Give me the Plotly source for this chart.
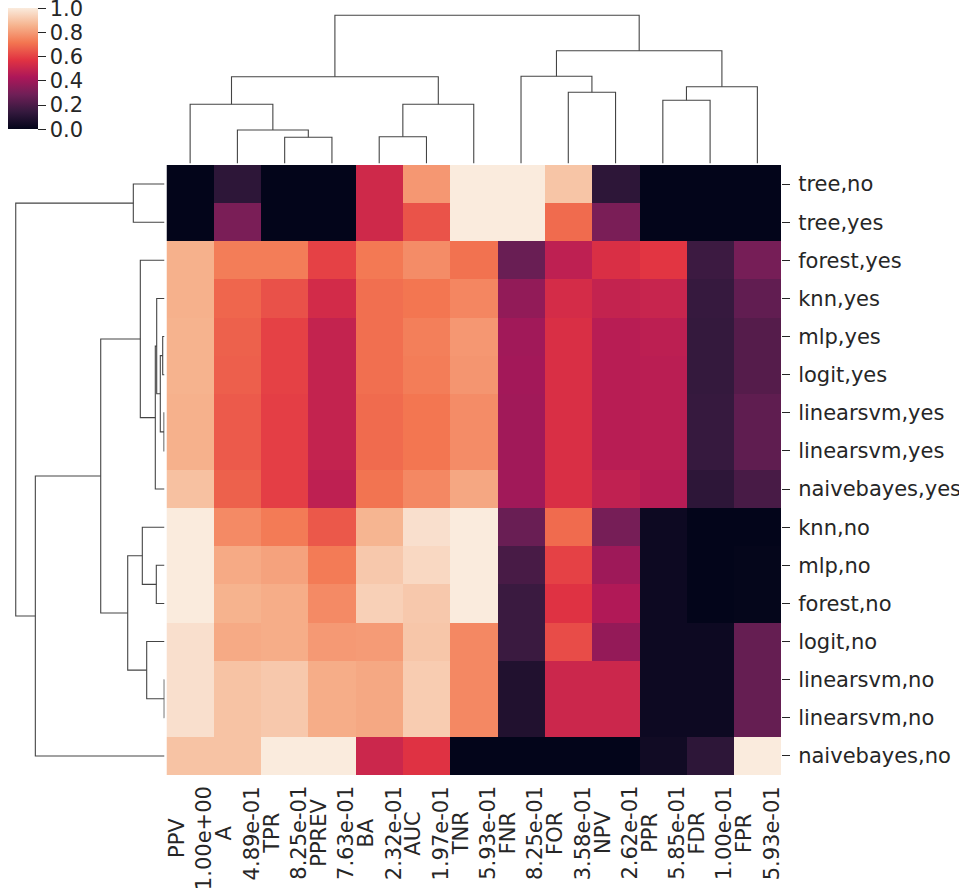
import plotly.graph_objects as go

W, H = 959, 894

# columns and rows in the order the clustering left them
col_names = ['PPV', 'A', 'TPR', 'PPREV', 'BA', 'AUC', 'TNR', 'FNR', 'FOR', 'NPV', 'PPR', 'FDR', 'FPR']
col_vals = ['1.00e+00', '4.89e-01', '8.25e-01', '7.63e-01', '2.32e-01', '1.97e-01', '5.93e-01',
            '8.25e-01', '3.58e-01', '2.62e-01', '5.85e-01', '1.00e-01', '5.93e-01']
row_names = ['tree,no', 'tree,yes', 'forest,yes', 'knn,yes', 'mlp,yes', 'logit,yes',
             'linearsvm,yes', 'linearsvm,yes', 'naivebayes,yes', 'knn,no', 'mlp,no',
             'forest,no', 'logit,no', 'linearsvm,no', 'linearsvm,no', 'naivebayes,no']

# scaled values, one list per row
z = [
    [0.00, 0.12, 0.00, 0.00, 0.52, 0.79, 1.00, 1.00, 0.90, 0.12, 0.00, 0.00, 0.00],
    [0.00, 0.31, 0.00, 0.00, 0.52, 0.64, 1.00, 1.00, 0.69, 0.31, 0.00, 0.00, 0.00],
    [0.85, 0.73, 0.73, 0.60, 0.72, 0.765, 0.705, 0.27, 0.475, 0.55, 0.575, 0.16, 0.30],
    [0.85, 0.68, 0.635, 0.53, 0.70, 0.715, 0.75, 0.366, 0.535, 0.49, 0.50, 0.145, 0.25],
    [0.855, 0.67, 0.60, 0.49, 0.70, 0.735, 0.79, 0.40, 0.55, 0.46, 0.47, 0.14, 0.22],
    [0.855, 0.665, 0.60, 0.49, 0.70, 0.73, 0.785, 0.405, 0.55, 0.46, 0.465, 0.14, 0.22],
    [0.85, 0.655, 0.595, 0.49, 0.69, 0.715, 0.765, 0.40, 0.55, 0.46, 0.465, 0.145, 0.245],
    [0.85, 0.655, 0.595, 0.49, 0.69, 0.715, 0.765, 0.40, 0.55, 0.46, 0.465, 0.145, 0.245],
    [0.89, 0.67, 0.595, 0.475, 0.71, 0.755, 0.827, 0.40, 0.55, 0.48, 0.455, 0.12, 0.19],
    [1.00, 0.76, 0.725, 0.65, 0.86, 0.97, 1.00, 0.27, 0.69, 0.30, 0.03, 0.00, 0.00],
    [1.00, 0.835, 0.815, 0.725, 0.91, 0.95, 1.00, 0.19, 0.60, 0.395, 0.03, 0.00, 0.005],
    [1.00, 0.855, 0.84, 0.76, 0.93, 0.91, 1.00, 0.155, 0.565, 0.44, 0.03, 0.00, 0.005],
    [0.97, 0.835, 0.84, 0.795, 0.80, 0.905, 0.755, 0.155, 0.625, 0.37, 0.03, 0.03, 0.26],
    [0.97, 0.895, 0.91, 0.84, 0.83, 0.92, 0.755, 0.085, 0.51, 0.51, 0.03, 0.03, 0.26],
    [0.97, 0.895, 0.91, 0.84, 0.83, 0.92, 0.755, 0.085, 0.51, 0.51, 0.03, 0.03, 0.26],
    [0.895, 0.895, 1.00, 1.00, 0.51, 0.565, 0.00, 0.00, 0.00, 0.00, 0.04, 0.12, 1.00],
]

# linkage: (left, right, height); ids >= n are earlier merges
col_links = [(2, 3, 26.2), (1, 13, 33.5), (0, 14, 59.2), (4, 5, 26.8), (16, 6, 59.2),
             (15, 17, 86.8), (8, 9, 71.2), (7, 19, 87.2), (10, 11, 63.2), (21, 12, 76.8),
             (20, 22, 112.8), (18, 23, 148.2)]
row_links = [(0, 1, 31.2), (4, 5, 1.8), (6, 7, 0.5), (17, 18, 4.2), (3, 19, 7.8),
             (20, 8, 9.2), (2, 21, 24.2), (10, 11, 8.2), (9, 23, 22.2), (13, 14, 0.3),
             (12, 25, 17.8), (24, 26, 36.8), (22, 27, 63.8), (28, 15, 129.2), (16, 29, 148.8)]

cbar_ticks = [0.0, 0.2, 0.4, 0.6, 0.8, 1.0]

rocket = [[0.0, '#03051a'], [0.143, '#35193e'], [0.286, '#701f57'], [0.429, '#ad1759'],
          [0.571, '#e13342'], [0.714, '#f37651'], [0.857, '#f6b48f'], [1.0, '#faebdd']]


def dendro_lines(n, links):
    pos = {i: float(i) for i in range(n)}
    hgt = {i: 0.0 for i in range(n)}
    p, h = [], []
    for k, (a, b, d) in enumerate(links):
        p += [pos[a], pos[a], pos[b], pos[b], None]
        h += [hgt[a], d, d, hgt[b], None]
        pos[n + k] = (pos[a] + pos[b]) / 2
        hgt[n + k] = d
    return p, h


def px_x(v):
    return v / W


def px_y(v):
    return 1 - v / H


txt = '#262626'
fnt = dict(family='DejaVu Sans', size=21, color=txt)

fig = go.Figure()
fig.add_trace(go.Heatmap(
    z=z, x=list(range(len(col_names))), y=list(range(len(row_names))),
    colorscale=rocket, zmin=0, zmax=1,
    colorbar=dict(
        thickness=30, thicknessmode='pixels', len=121, lenmode='pixels',
        x=px_x(8.3), xanchor='left', y=px_y(8.3), yanchor='top',
        xpad=0, ypad=0, outlinewidth=0,
        # nudge the top tick a hair inside so plotly keeps it
        tickvals=[min(t, 0.9999) for t in cbar_ticks],
        ticktext=['%.1f' % t for t in cbar_ticks],
        ticks='outside', ticklen=8, tickwidth=1.2, tickcolor=txt,
        tickfont=fnt, ticklabeloverflow='allow',
    ),
))

cp, ch = dendro_lines(len(col_names), col_links)
fig.add_trace(go.Scatter(x=cp, y=ch, mode='lines', xaxis='x', yaxis='y2',
                         line=dict(color='#444444', width=1.1), hoverinfo='skip',
                         showlegend=False))
rp, rh = dendro_lines(len(row_names), row_links)
fig.add_trace(go.Scatter(x=rh, y=rp, mode='lines', xaxis='x2', yaxis='y',
                         line=dict(color='#444444', width=1.1), hoverinfo='skip',
                         showlegend=False))

for i, (nm, vl) in enumerate(zip(col_names, col_vals)):
    fig.add_annotation(x=i, xref='x', y=px_y(785), yref='paper', yanchor='top',
                       xanchor='center', text=nm + '<br>' + vl, textangle=-90,
                       showarrow=False, align='center', font=fnt, borderpad=0)

col_top = max(l[2] for l in col_links) * 1.05
row_top = max(l[2] for l in row_links) * 1.05

fig.update_layout(
    width=W, height=H, margin=dict(l=0, r=0, t=0, b=0, autoexpand=False),
    paper_bgcolor='white', plot_bgcolor='white', font=fnt,
    xaxis=dict(domain=[px_x(166.5), px_x(781)], range=[-0.5, len(col_names) - 0.5],
               showticklabels=False, ticks='', showgrid=False, zeroline=False,
               automargin=False),
    yaxis=dict(domain=[px_y(775), px_y(165)], range=[len(row_names) - 0.5, -0.5],
               side='right', tickvals=list(range(len(row_names))), ticktext=row_names,
               ticks='outside', ticklen=8, tickwidth=1.2, tickcolor=txt,
               ticklabelstandoff=4, tickfont=fnt, showgrid=False, zeroline=False,
               automargin=False),
    yaxis2=dict(domain=[px_y(163.5), px_y(7.9)], range=[0, col_top],
                visible=False, anchor='x', automargin=False),
    xaxis2=dict(domain=[px_x(8.3), px_x(164.5)], range=[row_top, 0],
                visible=False, anchor='y', automargin=False),
)

# the page's default 8px body margin would push the figure off its spot
fig.write_html("out.html", config={'displayModeBar': False},
               post_script="document.body.style.margin='0';")
